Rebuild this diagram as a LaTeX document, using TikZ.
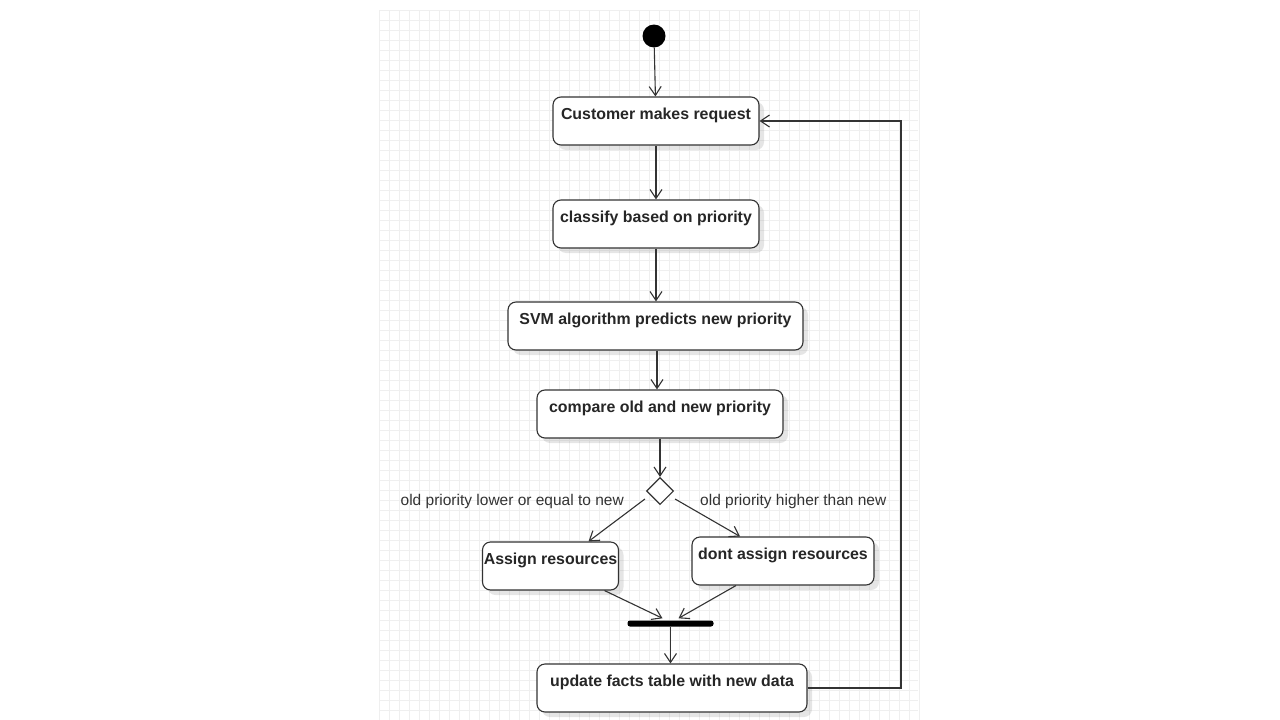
\documentclass[tikz,border=0pt]{standalone}
\usepackage{fontspec}
\setmainfont{Liberation Sans}
\usetikzlibrary{arrows.meta,shapes.geometric,shadows}
\definecolor{ink}{HTML}{333333}
\definecolor{gridline}{HTML}{EFEFEF}
\begin{document}
\begin{tikzpicture}[x=1pt,y=-1pt,
  font=\fontsize{16}{18}\selectfont,
  flow/.style={draw=ink,line width=1.1pt,-{Straight Barb[length=9pt,width=12pt]}},
  act/.style={draw=ink,line width=1.1pt,fill=white,rounded corners=8pt,
    font=\fontsize{15.9}{18}\selectfont\bfseries,text=black!85,
    inner xsep=0pt,inner ysep=0pt,text height=22pt,text depth=26pt,
    drop shadow={opacity=0.2,shadow xshift=5pt,shadow yshift=-5pt}},
  guard/.style={font=\fontsize{15.5}{18}\selectfont,text=ink,inner sep=0pt}]
% page and squared background
\useasboundingbox (0,0) rectangle (1280,720);
\fill[white] (0,0) rectangle (1280,720);
\foreach \gx in {379,389,...,919} \draw[gridline,line width=0.6pt] (\gx,10) -- (\gx,720);
\foreach \gy in {10,20,...,720} \draw[gridline,line width=0.6pt] (379,\gy) -- (918,\gy);

% initial state
\node[circle,fill=black,minimum size=23pt,inner sep=0pt] (start) at (654,36) {};

% activities
\node[act,minimum width=206pt] (req) at (656,121) {Customer makes request};
\node[act,minimum width=206pt] (cls) at (656,224) {classify based on priority};
\node[act,minimum width=295pt] (svm) at (655.5,326) {SVM algorithm predicts new priority};
\node[act,minimum width=246pt] (cmp) at (660,414) {compare old and new priority};
\node[diamond,draw=ink,line width=1.1pt,fill=white,minimum size=27pt,inner sep=0pt] (dec) at (660,491) {};
\node[act,minimum width=136pt] (asg) at (550.5,566) {Assign resources};
\node[act,minimum width=182pt] (nas) at (783,561) {dont assign resources};
\node[fill=black,rounded corners=2.5pt,minimum width=86pt,minimum height=6pt,inner sep=0pt] (bar) at (670.5,623.5) {};
\node[act,minimum width=270pt] (upd) at (672,688) {update facts table with new data};

% guard labels
\node[guard,anchor=east] (gl) at (624,501) {old priority lower or equal to new};
\node[guard,anchor=west] (gr) at (700,501) {old priority higher than new};

% transitions
\draw[flow] (start) -- (req);
\draw[flow] (req) -- (cls);
\draw[flow] (cls) -- (svm.north -| cls);
\draw[flow] ([xshift=1.5pt]svm.south) -- ([xshift=1.5pt]svm.south |- cmp.north);
\draw[flow] (cmp) -- (dec);
\draw[flow] ([shift={(-1,8)}]dec.west) -- ([xshift=38pt]asg.north);
\draw[flow] ([shift={(1,8)}]dec.east) -- ([xshift=-43pt]nas.north);
\draw[flow] ([xshift=54pt]asg.south) -- ([shift={(-8,-2)}]bar.north);
\draw[flow] ([xshift=-47pt]nas.south) -- ([shift={(8,-2)}]bar.north);
\draw[flow] (bar) -- (bar |- upd.north);
\draw[flow] (upd.east) -- (901,688) -- (901,121) -- (req.east);
\end{tikzpicture}
\end{document}
